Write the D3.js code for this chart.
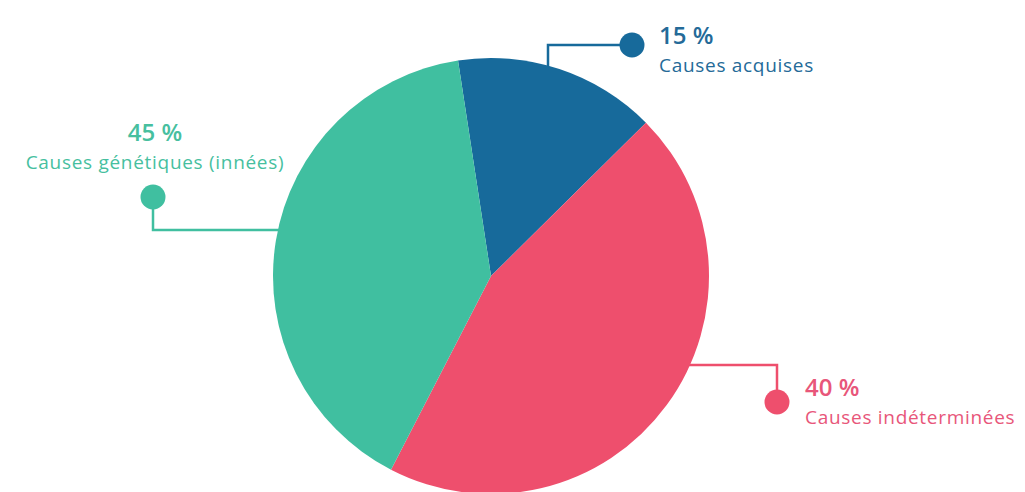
<!DOCTYPE html>
<html>
<head>
<meta charset="utf-8">
<script src="https://cdn.jsdelivr.net/npm/d3@7"></script>
<style>
  html, body { margin: 0; padding: 0; background: #ffffff; }
  svg { display: block; }
  text { font-family: "Open Sans", "Lato", sans-serif; }
</style>
</head>
<body>
<svg id="chart" width="1025" height="492"></svg>
<script>
// ---- data ----
const categories = ["Causes acquises", "Causes indéterminées", "Causes génétiques (innées)"];
const sliceShares = [15, 45, 40];              // slice sizes as drawn in the picture
const percentLabels = ["15 %", "40 %", "45 %"]; // printed label texts
const colors = ["#176a9b", "#ee4f6d", "#40bfa0"];
const textColors = ["#246a98", "#e8567a", "#47bf9f"];

// ---- layout ----
const svg = d3.select("#chart");
const cx = 491, cy = 276, R = 218;
const startDeg = -8.7;

const pie = d3.pie().sort(null).value(d => d)
  .startAngle(startDeg * Math.PI / 180)
  .endAngle(startDeg * Math.PI / 180 + 2 * Math.PI);
const arcs = pie(sliceShares);
const arc = d3.arc().innerRadius(0).outerRadius(R);

const callouts = [
  { pts: [[548, 150], [548, 45], [632, 45]], dot: [632, 45], tx: 659, ty: 44, anchor: "start" },
  { pts: [[600, 365], [777, 365], [777, 402]], dot: [777, 402], tx: 805, ty: 396, anchor: "start" },
  { pts: [[380, 230], [153, 230], [153, 197]], dot: [153, 197], tx: 155, ty: 141, anchor: "middle" }
];

const gLines = svg.append("g");
callouts.forEach((c, i) => {
  gLines.append("path")
    .attr("d", d3.line()(c.pts))
    .attr("fill", "none")
    .attr("stroke", colors[i])
    .attr("stroke-width", 2.5);
});

svg.append("g")
  .attr("transform", `translate(${cx},${cy})`)
  .selectAll("path")
  .data(arcs)
  .join("path")
  .attr("d", arc)
  .attr("fill", (d, i) => colors[i]);

callouts.forEach((c, i) => {
  svg.append("circle")
    .attr("cx", c.dot[0]).attr("cy", c.dot[1]).attr("r", 12.5)
    .attr("fill", colors[i]);
  svg.append("text")
    .attr("x", c.tx).attr("y", c.ty)
    .attr("text-anchor", c.anchor)
    .attr("fill", textColors[i])
    .attr("font-size", 24).attr("font-weight", 600)
    .text(percentLabels[i]);
  svg.append("text")
    .attr("x", c.tx).attr("y", c.ty + 28)
    .attr("text-anchor", c.anchor)
    .attr("fill", textColors[i])
    .attr("font-size", 19).attr("font-weight", 400)
    .attr("letter-spacing", 0.7)
    .text(categories[i]);
});
</script>
</body>
</html>
